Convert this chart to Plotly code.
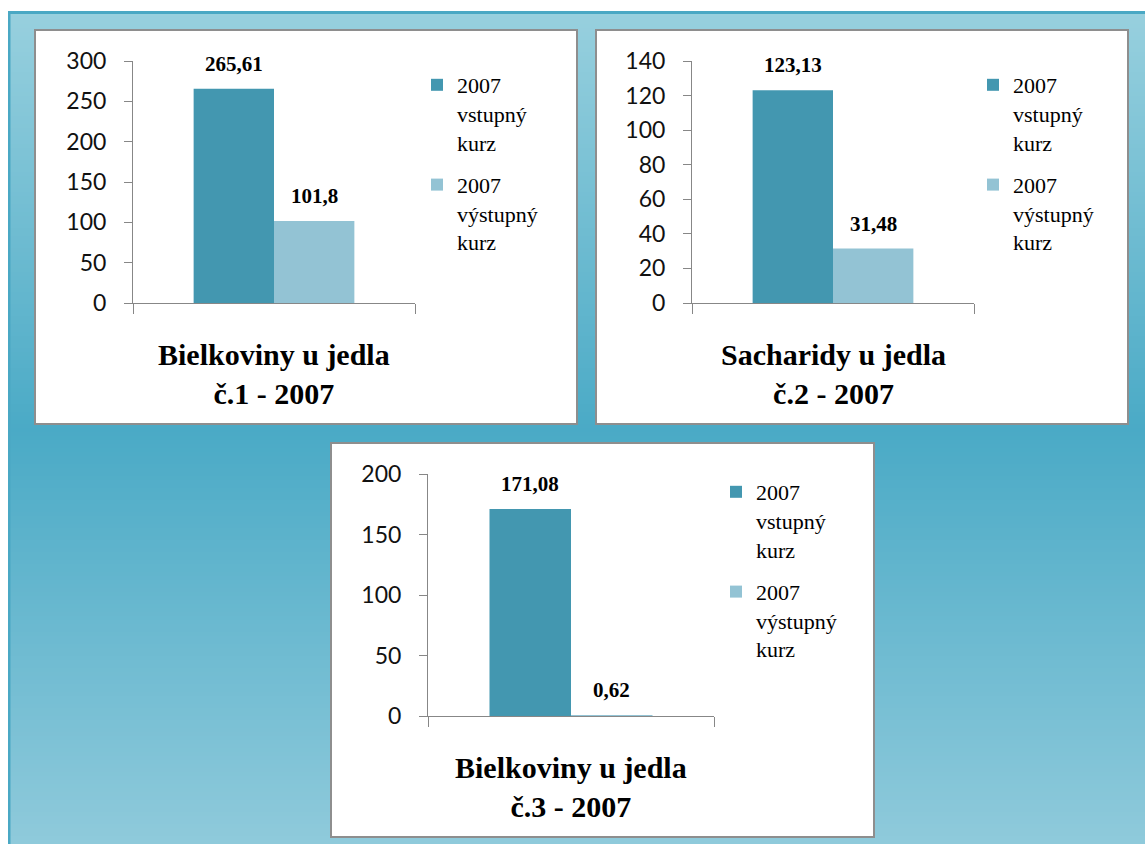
import plotly.graph_objects as go

# ---- data -------------------------------------------------------------
series_names = ["2007<br>vstupný<br>kurz", "2007<br>výstupný<br>kurz"]
chart_titles = [
    "Bielkoviny u jedla<br>č.1 - 2007",
    "Sacharidy u jedla<br>č.2 - 2007",
    "Bielkoviny u jedla<br>č.3 - 2007",
]
category = ["2007"]
vstupny = [265.61, 123.13, 171.08]
vystupny = [101.8, 31.48, 0.62]
y_max = [300, 140, 200]
y_step = [50, 20, 50]

# ---- styling / layout -------------------------------------------------
W, H = 1145, 844
COL_IN = "#4397b0"
COL_OUT = "#93c3d4"
AXIS_COL = "#878787"
BARGAP = 0.43


def fx(px):
    return px / W


def fy(py):
    return 1 - py / H


# panel frame (x0, y0, x1, y1), plot area (left, top, right, bottom), legend origin
panels = [
    dict(frame=(35, 30, 577, 424), plot=(133, 61, 415, 303), legend=(417, 64)),
    dict(frame=(596, 30, 1128, 424), plot=(692, 61, 974, 303), legend=(973, 64)),
    dict(frame=(331, 443, 874, 837), plot=(428, 474, 714, 716), legend=(716, 471)),
]

fig = go.Figure()
shapes = []

# vertical background gradient (light - saturated - light)
stops = [(12, (152, 208, 222)), (430, (74, 170, 198)), (844, (143, 202, 219))]


def grad_color(py):
    for (y0, c0), (y1, c1) in zip(stops[:-1], stops[1:]):
        if y0 <= py <= y1:
            t = (py - y0) / (y1 - y0)
            c = [round(a + (b - a) * t) for a, b in zip(c0, c1)]
            return "rgb(%d,%d,%d)" % tuple(c)
    return "rgb(%d,%d,%d)" % stops[-1][1]


step = 4
for y in range(12, H, step):
    shapes.append(dict(
        type="rect", xref="paper", yref="paper", layer="below",
        x0=fx(8), x1=1, y0=fy(min(y + step + 1, H)), y1=fy(y),
        fillcolor=grad_color(y + step / 2), line=dict(width=0),
    ))
# darker edge along the top and left of the coloured area
shapes.append(dict(type="rect", xref="paper", yref="paper", layer="below",
                   x0=fx(8), x1=1, y0=fy(14), y1=fy(11),
                   fillcolor="#4aa8c4", line=dict(width=0)))
shapes.append(dict(type="rect", xref="paper", yref="paper", layer="below",
                   x0=fx(8), x1=fx(10.5), y0=0, y1=fy(11),
                   fillcolor="#4aa8c4", line=dict(width=0)))

annotations = []
layout_axes = {}

for i, p in enumerate(panels):
    n = "" if i == 0 else str(i + 1)
    xa, ya = "x" + n, "y" + n
    leg = "legend" + n

    x0, y0, x1, y1 = p["frame"]
    shapes.append(dict(type="rect", xref="paper", yref="paper", layer="below",
                       x0=fx(x0), x1=fx(x1), y0=fy(y1), y1=fy(y0),
                       fillcolor="white", line=dict(color="#8e8e8e", width=2)))

    left, top, right, bottom = p["plot"]
    layout_axes["xaxis" + n] = dict(
        domain=[fx(left), fx(right)], anchor=ya, type="category",
        showline=True, linecolor=AXIS_COL, linewidth=1,
        ticks="outside", tickson="boundaries", ticklen=10, tickcolor=AXIS_COL,
        showticklabels=False, showgrid=False, zeroline=False, fixedrange=True,
        automargin=False,
    )
    layout_axes["yaxis" + n] = dict(
        domain=[fy(bottom), fy(top)], anchor=xa,
        range=[0, y_max[i]], dtick=y_step[i], tick0=0,
        showline=True, linecolor=AXIS_COL, linewidth=1,
        ticks="outside", ticklen=8, tickcolor=AXIS_COL, ticklabelstandoff=13,
        tickfont=dict(family="Lato", size=23, color="#111111"),
        showgrid=False, zeroline=False, fixedrange=True, automargin=False,
    )

    for j, (vals, col) in enumerate([(vstupny, COL_IN), (vystupny, COL_OUT)]):
        fig.add_trace(go.Bar(
            x=category, y=[vals[i]], name=series_names[j],
            marker=dict(color=col, line=dict(width=0)),
            xaxis=xa, yaxis=ya, legend=leg, legendgroup="s%d" % j,
            hoverinfo="skip",
        ))
        # value label above each bar, centred on the bar within its group
        half = (1 - BARGAP) / 4
        annotations.append(dict(
            xref=xa, yref=ya, x=(-half if j == 0 else half), y=vals[i],
            text="<b>" + ("%g" % vals[i]).replace(".", ",") + "</b>",
            showarrow=False, xanchor="center", yanchor="bottom", yshift=11,
            font=dict(family="Liberation Serif", size=21, color="black"),
        ))

    annotations.append(dict(
        xref=xa + " domain", yref="paper", x=0.5, y=fy(bottom + 33),
        text="<b>" + chart_titles[i] + "</b>", showarrow=False,
        xanchor="center", yanchor="top", align="center",
        font=dict(family="Liberation Serif", size=30, color="black"),
    ))

    lx, ly = p["legend"]
    layout_axes[leg] = dict(
        x=fx(lx), y=fy(ly), xanchor="left", yanchor="top",
        bgcolor="rgba(0,0,0,0)", borderwidth=0, valign="top",
        traceorder="grouped", tracegroupgap=11,
        font=dict(family="Liberation Serif", size=22, color="black"),
        itemclick=False, itemdoubleclick=False,
    )

fig.update_layout(
    width=W, height=H,
    margin=dict(l=0, r=0, t=0, b=0, autoexpand=False),
    paper_bgcolor="white", plot_bgcolor="rgba(0,0,0,0)",
    barmode="group", bargap=BARGAP, bargroupgap=0,
    showlegend=True,
    shapes=shapes, annotations=annotations,
    **layout_axes,
)

fig.write_html(
    "out.html",
    config={"displayModeBar": False},
    post_script="document.body.style.margin='0';document.body.style.overflow='hidden';",
)
